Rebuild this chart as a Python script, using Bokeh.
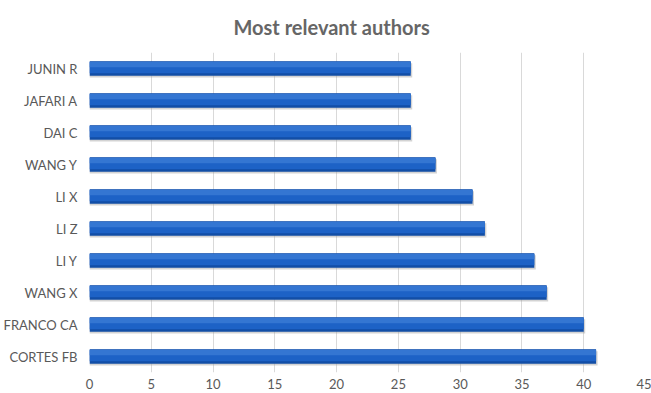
from bokeh.plotting import figure
from bokeh.models import FactorRange, Range1d, SingleIntervalTicker, ColumnDataSource
from bokeh.transform import dodge
from bokeh.embed import file_html
from bokeh.resources import INLINE

# Authors listed bottom to top, with document counts
authors = ["CORTES FB", "FRANCO CA", "WANG X", "LI Y", "LI Z",
           "LI X", "WANG Y", "DAI C", "JAFARI A", "JUNIN R"]
documents = [41, 40, 37, 36, 32, 31, 28, 26, 26, 26]

FONT = "Lato"
GREY = "#595959"

src = ColumnDataSource(dict(author=authors, n=documents,
                            n_shadow=[v + 0.12 for v in documents]))

p = figure(width=651, height=393, output_backend="svg", toolbar_location=None,
           y_range=FactorRange(*authors, range_padding=0.0),
           x_range=Range1d(0, 45),
           min_border_left=89, min_border_right=6, min_border_bottom=21,
           min_border_top=52)

p.title.text = "Most relevant authors"
p.title.align = "left"
p.title.offset = 144
p.title.vertical_align = "top"
p.title.text_font = FONT
p.title.text_font_size = "20px"
p.title.text_font_style = "bold"
p.title.text_color = "#666666"
p.title.standoff = 24

p.outline_line_color = None
p.background_fill_color = "white"
p.border_fill_color = "white"

# vertical gridlines only
p.ygrid.grid_line_color = None
p.xgrid.grid_line_color = "#D9D9D9"
p.xgrid.grid_line_width = 1
p.xaxis.ticker = SingleIntervalTicker(interval=5)

for ax in (p.xaxis[0], p.yaxis[0]):
    ax.axis_line_color = None
    ax.major_tick_line_color = None
    ax.minor_tick_line_color = None
    ax.major_label_text_font = FONT
    ax.major_label_text_font_size = "13px"
    ax.major_label_text_color = GREY
p.xaxis.major_label_standoff = 0
p.yaxis.major_label_standoff = 6

# soft drop shadow under each bar
p.hbar(y=dodge("author", -0.06, range=p.y_range), left=0, right="n_shadow",
       height=0.45, source=src, fill_color="#9E9E9E", fill_alpha=0.45,
       line_color=None)
# dark base of the bar
p.hbar(y="author", left=0, right="n", height=0.46, source=src,
       fill_color="#124EA6", line_color=None)
# mid tone body
p.hbar(y=dodge("author", 0.03, range=p.y_range), left=0, right="n",
       height=0.36, source=src, fill_color="#1D62C6", line_color=None)
# lighter upper band
p.hbar(y=dodge("author", 0.12, range=p.y_range), left=0, right="n",
       height=0.16, source=src, fill_color="#3476D2", line_color=None)

open("out.html", "w").write(file_html(p, INLINE))
